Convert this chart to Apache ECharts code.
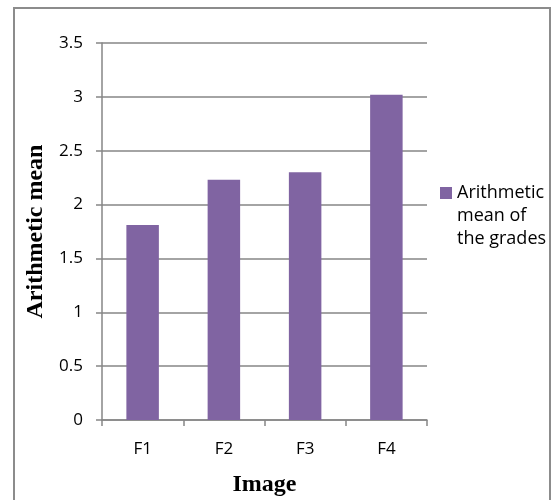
<!DOCTYPE html>
<html>
<head>
<meta charset="utf-8">
<script src="https://cdn.jsdelivr.net/npm/echarts@6/dist/echarts.min.js"></script>
<style>
  html, body { margin: 0; padding: 0; background: #ffffff; }
  #chart { width: 552px; height: 500px; }
</style>
</head>
<body>
<div id="chart"></div>
<script>
const categories = ['F1', 'F2', 'F3', 'F4'];
const meanValues = [1.81, 2.23, 2.30, 3.02];
const seriesName = 'Arithmetic mean of the grades';
const legendLines = ['Arithmetic', 'mean of', 'the grades'];
const yTicks = { min: 0, max: 3.5, interval: 0.5 };

const chart = echarts.init(document.getElementById('chart'));
const gray = '#868686';
chart.setOption({
  animation: false,
  backgroundColor: '#ffffff',
  graphic: [{
    type: 'rect',
    shape: { x: 14, y: 8, width: 536, height: 520 },
    style: { fill: 'none', stroke: '#8c8c8c', lineWidth: 2 },
    silent: true
  }],
  grid: { left: 102, right: 125, top: 43, bottom: 80, outerBoundsMode: 'none', containLabel: false },
  legend: {
    orient: 'vertical',
    left: 440,
    top: 135.5,
    padding: 0,
    itemWidth: 12,
    itemHeight: 12,
    itemGap: 0,
    icon: 'rect',
    formatter: function () { return '\n\n' + legendLines.join('\n'); },
    textStyle: {
      fontFamily: 'Open Sans',
      fontSize: 18,
      color: '#000',
      lineHeight: 23
    },
    data: [seriesName]
  },
  xAxis: {
    type: 'category',
    data: categories,
    name: 'Image',
    nameLocation: 'middle',
    nameGap: 53,
    nameTextStyle: { fontFamily: 'Liberation Serif', fontWeight: 'bold', fontSize: 24, color: '#000' },
    axisLine: { lineStyle: { color: gray, width: 1.5 } },
    axisTick: { show: true, length: 6, lineStyle: { color: gray, width: 1.5 } },
    axisLabel: { fontFamily: 'Open Sans', fontSize: 17, color: '#000', margin: 21 }
  },
  yAxis: {
    type: 'value',
    min: yTicks.min,
    max: yTicks.max,
    interval: yTicks.interval,
    name: 'Arithmetic mean',
    nameLocation: 'middle',
    nameGap: 50,
    nameTextStyle: { fontFamily: 'Liberation Serif', fontWeight: 'bold', fontSize: 24, color: '#000' },
    axisLine: { show: true, lineStyle: { color: gray, width: 1.5 } },
    axisTick: { show: true, length: 6, lineStyle: { color: gray, width: 1.5 } },
    splitLine: { lineStyle: { color: gray, width: 1.5 } },
    axisLabel: { fontFamily: 'Open Sans', fontSize: 17, color: '#000', margin: 19 }
  },
  series: [{
    name: seriesName,
    type: 'bar',
    data: meanValues,
    barWidth: '40%',
    itemStyle: { color: '#8064A2' }
  }]
});
</script>
</body>
</html>
